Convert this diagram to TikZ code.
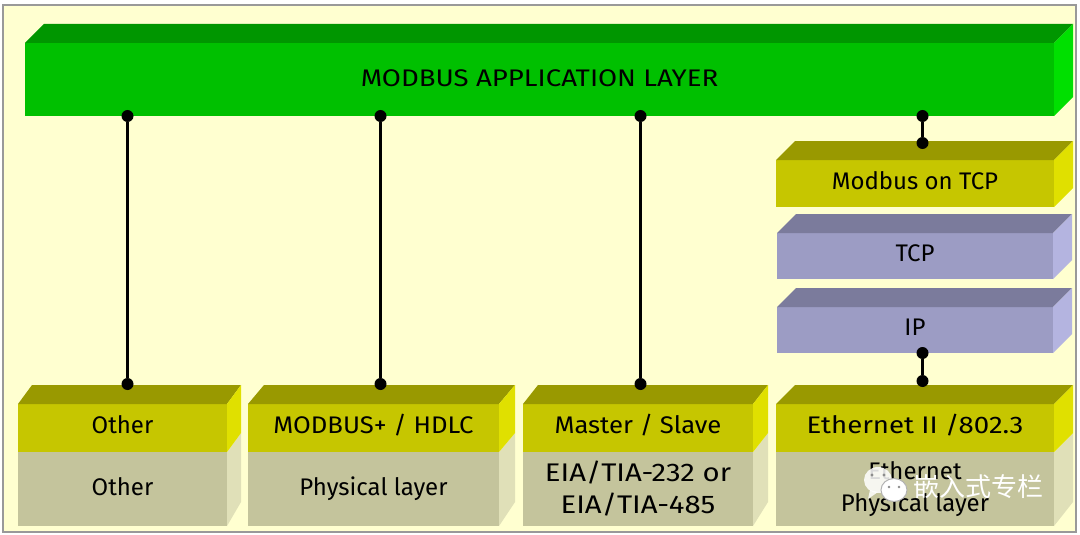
\documentclass[tikz,border=0pt]{standalone}
\usepackage{fontspec}
\setmainfont{Fira Sans}
\newfontfamily\wideface[FakeStretch=1.15]{Fira Sans}
\newfontfamily\midface[FakeStretch=1.07]{Fira Sans}
\newfontfamily\cjk{Noto Sans CJK SC}
\usetikzlibrary{calc}
\definecolor{paper}{HTML}{FFFFD0}
\definecolor{greenfront}{HTML}{00C000}
\definecolor{greentop}{HTML}{009600}
\definecolor{greenside}{HTML}{00E000}
\definecolor{yellowfront}{HTML}{C6C600}
\definecolor{yellowtop}{HTML}{999900}
\definecolor{yellowside}{HTML}{E0E000}
\definecolor{bluefront}{HTML}{9C9CC4}
\definecolor{bluetop}{HTML}{7B7B9C}
\definecolor{blueside}{HTML}{B4B4E0}
\definecolor{tanfront}{HTML}{C4C49C}
\definecolor{tanside}{HTML}{E0E0B8}
\tikzset{
    face/.style={inner sep=0pt,outer sep=0pt,align=center,font=\fontsize{24}{32}\selectfont},
    raised/.style={text height=17pt,text depth=6pt},
    greenbox/.style={face,fill=greenfront},
    yellowbox/.style={face,fill=yellowfront,raised},
    bluebox/.style={face,fill=bluefront,raised},
    tanbox/.style={face,fill=tanfront},
    pin/.style={circle,fill=black,inner sep=0pt,minimum size=12pt},
    link/.style={line width=3.2pt}
}
% top and right faces of a front node: {node}{top}{side}{dx}
\newcommand{\boxfaces}[4]{
    \fill[#2] (#1.north west) -- ++(#4,-19) -- ($(#1.north east)+(#4,-19)$) -- (#1.north east) -- cycle;
    \fill[#3] (#1.north east) -- ++(#4,-19) -- ($(#1.south east)+(#4,-19)$) -- (#1.south east) -- cycle;
}
\begin{document}
\begin{tikzpicture}[x=1pt,y=-1pt]
            \useasboundingbox (0,0) rectangle (1080,535);
            \fill[white] (0,0) rectangle (1080,535);
            \draw[fill=paper,draw=black!40,line width=2pt] (2.5,5.5) rectangle (1075.5,531.5);
            % application layer
            \node[greenbox,minimum width=1029pt,minimum height=73pt,text height=17pt,text depth=3pt] (app) at (539.5,79.5) {\wideface MODBUS APPLICATION LAYER};
            \boxfaces{app}{greentop}{greenside}{19}
            % tcp stack
            \node[yellowbox,minimum width=278pt,minimum height=47pt] (mtcp) at (915,183.5) {Modbus on TCP};
            \boxfaces{mtcp}{yellowtop}{yellowside}{19}
            \node[bluebox,minimum width=276pt,minimum height=46pt] (tcp) at (915,256) {TCP};
            \boxfaces{tcp}{bluetop}{blueside}{19}
            \node[bluebox,minimum width=276pt,minimum height=46pt] (ip) at (915,330) {IP};
            \boxfaces{ip}{bluetop}{blueside}{19}
            % physical layers
            \node[tanbox,minimum width=209pt,minimum height=74pt,text height=17pt,text depth=4pt] (phy1) at (122.5,489) {Other};
            \node[tanbox,minimum width=251pt,minimum height=74pt,text height=17pt,text depth=4pt] (phy2) at (373.5,489) {Physical layer};
            \node[tanbox,minimum width=230pt,minimum height=74pt] (phy3) at (638,489) {\wideface\fontsize{25.5}{32}\selectfont EIA/TIA-232 or\\\wideface\fontsize{25.5}{32}\selectfont EIA/TIA-485};
            \node[tanbox,minimum width=278pt,minimum height=74pt] (phy4) at (915,489) {Ethernet\\Physical layer};
            \fill[tanside] (phy1.south east) -- ++(14,-24) -- ++(0,-69) -- (phy1.north east) -- cycle;
            \fill[tanside] (phy2.south east) -- ++(16,-24) -- ++(0,-69) -- (phy2.north east) -- cycle;
            \fill[tanside] (phy3.south east) -- ++(15,-24) -- ++(0,-69) -- (phy3.north east) -- cycle;
            \fill[tanside] (phy4.south east) -- ++(19,-24) -- ++(0,-69) -- (phy4.north east) -- cycle;
            % data link layers
            \node[yellowbox,minimum width=209pt,minimum height=48pt] (link1) at (122.5,428) {Other};
            \boxfaces{link1}{yellowtop}{yellowside}{14}
            \node[yellowbox,minimum width=251pt,minimum height=48pt] (link2) at (373.5,428) {\midface MODBUS+ / HDLC};
            \boxfaces{link2}{yellowtop}{yellowside}{16}
            \node[yellowbox,minimum width=230pt,minimum height=48pt] (link3) at (638,428) {\midface Master / Slave};
            \boxfaces{link3}{yellowtop}{yellowside}{15}
            \node[yellowbox,minimum width=278pt,minimum height=48pt] (link4) at (915,428) {\wideface Ethernet II /802.3};
            \boxfaces{link4}{yellowtop}{yellowside}{19}
            % connectors
            \begin{scope}[every node/.style={pin}]
                \node (p1a) at (127.5,116) {};
                \node (p1b) at (127.5,384) {};
                \node (p2a) at (380.5,116) {};
                \node (p2b) at (380.5,384) {};
                \node (p3a) at (640.5,116) {};
                \node (p3b) at (640.5,384) {};
                \node (p4a) at (922.5,116) {};
                \node (p4b) at (922.5,143) {};
                \node (p5a) at (922.5,353) {};
                \node (p5b) at (922.5,381) {};
            \end{scope}
            \draw[link] (p1a) -- (p1b);
            \draw[link] (p2a) -- (p2b);
            \draw[link] (p3a) -- (p3b);
            \draw[link] (p4a) -- (p4b);
            \draw[link] (p5a) -- (p5b);
            % watermark
            \fill[white,opacity=.85] (878,480) ellipse (14 and 13);
            \fill[white,opacity=.85] (870,490) -- (868,499) -- (878,492) -- cycle;
            \draw[fill=white,draw=black!30,line width=1pt] (894,490) ellipse (13 and 11.5);
            \fill[black!45] (872,475) circle (1.6) (884,475) circle (1.6) (889,487) circle (1.4) (899,487) circle (1.4);
            \node[text=white,font=\cjk\fontsize{26}{26}\selectfont,inner sep=0pt] (mark) at (978,487) {嵌入式专栏};
        \end{tikzpicture}
\end{document}
